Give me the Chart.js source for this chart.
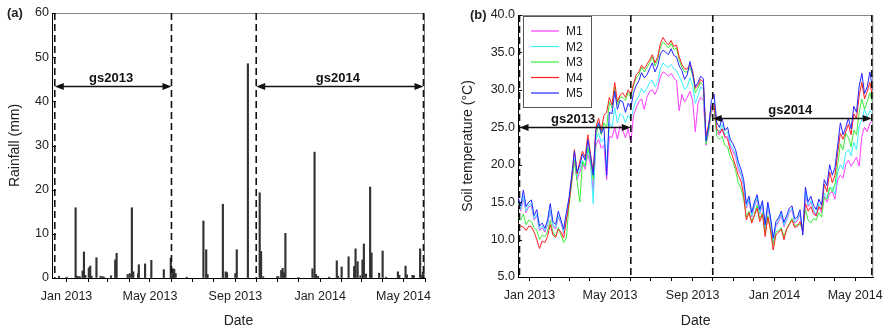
<!DOCTYPE html>
<html>
<head>
<meta charset="utf-8">
<script src="https://cdn.jsdelivr.net/npm/chart.js@4.4.1/dist/chart.umd.min.js"></script>
<style>
  html, body { margin: 0; padding: 0; background: #fff; }
  #wrap { position: relative; width: 890px; height: 328px; }
  #wrap canvas { position: absolute; top: 0; }
</style>
</head>
<body>
<div id="wrap">
  <canvas id="rainChart" width="445" height="328" style="left:0"></canvas>
  <canvas id="tempChart" width="445" height="328" style="left:445px"></canvas>
</div>
<script>
// days are counted from 1 Jan 2013
const monthStarts = [0, 31, 59, 90, 120, 151, 181, 212, 243, 273, 304, 334, 365, 396, 424, 455, 485, 516];
const majorDays = [0, 120, 243, 365, 485];
const majorLabels = ['Jan 2013', 'May 2013', 'Sep 2013', 'Jan 2014', 'May 2014'];

// growing seasons
const seasonNames = ['gs2013', 'gs2014'];
const seasonStart = [-17, 273];
const seasonEnd = [151, 516];
const rainArrowLevel = [43.4, 43.4];
const tempArrowLevel = [25.0, 26.2];

// daily rainfall (mm)
const rainDays = [-11, 0, 13, 15, 17, 19, 23, 25, 27, 32, 34, 36, 43, 49, 52, 54, 64, 70, 72, 88,
  91, 94, 96, 103, 104, 113, 122, 140, 150, 153, 155, 157, 173, 197, 201, 203, 225, 229, 231, 243,
  245, 261, 278, 280, 283, 303, 305, 309, 311, 313, 315, 334, 354, 357, 359, 362, 378, 389, 391, 396,
  406, 414, 416, 419, 423, 426, 428, 431, 437, 439, 450, 455, 460, 477, 479, 488, 490, 498, 500, 509,
  511, 513, 515];
const rainMm = [0.4, 0.2, 15.9, 0.4, 0.3, 0.3, 1.6, 5.9, 0.6, 2.3, 2.7, 0.4, 4.6, 0.4, 0.3, 0.2, 0.5, 4.1, 5.6, 0.8,
  1.0, 15.9, 1.4, 1.0, 3.0, 3.2, 4.0, 1.9, 4.5, 2.1, 2.0, 1.0, 0.2, 12.9, 6.4, 0.8, 16.7, 1.4, 1.2, 1.0,
  6.4, 48.5, 19.3, 6.0, 0.3, 0.3, 0.3, 1.7, 2.2, 1.2, 10.1, 0.1, 2.1, 28.5, 0.8, 0.4, 0.2, 3.9, 0.4, 2.5,
  4.8, 2.6, 6.6, 3.7, 0.5, 4.1, 7.7, 0.9, 20.6, 5.7, 1.1, 6.1, 0.2, 1.4, 0.6, 2.7, 0.7, 0.6, 0.5, 6.6,
  0.6, 1.3, 1.8];

// soil temperature (°C), sampled every 4 days
const tempDays = [-17, -13, -9, -5, -1, 3, 7, 11, 15, 19,
  23, 27, 31, 35, 39, 43, 47, 51, 55, 59,
  63, 67, 71, 75, 79, 83, 87, 91, 95, 99,
  103, 107, 111, 115, 119, 123, 127, 131, 135, 139,
  143, 147, 151, 155, 159, 163, 167, 171, 175, 179,
  183, 187, 191, 195, 199, 203, 207, 211, 215, 219,
  223, 227, 231, 235, 239, 243, 247, 251, 255, 259,
  263, 267, 271, 275, 279, 283, 287, 291, 295, 299,
  303, 307, 311, 315, 319, 323, 327, 331, 335, 339,
  343, 347, 351, 355, 359, 363, 367, 371, 375, 379,
  383, 387, 391, 395, 399, 403, 407, 411, 415, 419,
  423, 427, 431, 435, 439, 443, 447, 451, 455, 459,
  463, 467, 471, 475, 479, 483, 487, 491, 495, 499,
  503, 507, 511];

const m1 = [14.8, 13.8, 15.4, 13.6, 14.4, 14.5, 12.6, 13.2, 11.2, 11.6,
  11.0, 12.0, 13.8, 11.8, 11.4, 13.0, 12.2, 10.8, 12.8, 15.0,
  17.6, 20.4, 18.0, 19.0, 20.2, 19.4, 21.4, 20.0, 16.4, 22.6,
  23.4, 22.2, 22.6, 18.0, 23.8, 23.6, 25.0, 23.4, 25.2, 24.6,
  23.6, 24.8, 22.9, 26.6, 27.6, 28.4, 28.8, 27.4, 29.0, 29.8,
  30.0, 29.4, 30.2, 31.8, 32.4, 32.2, 31.8, 32.2, 31.6, 31.2,
  27.2, 29.4, 28.4, 29.0, 29.8, 28.6, 24.4, 28.2, 29.0, 28.6,
  22.6, 24.4, 27.0, 27.4, 24.2, 24.0, 24.8, 23.6, 23.8, 22.4,
  21.8, 21.0, 19.4, 18.6, 17.2, 14.2, 15.2, 13.0, 14.4, 15.4,
  13.4, 14.6, 11.4, 14.4, 12.4, 9.6, 11.8, 12.4, 13.2, 11.7,
  12.6, 13.6, 14.0, 12.2, 12.5, 13.4, 10.8, 16.0, 14.4, 15.0,
  13.8, 13.2, 14.4, 13.6, 15.8, 15.0, 16.2, 16.4, 15.4, 18.0,
  18.6, 18.2, 20.0, 20.6, 19.8, 20.4, 21.0, 19.8, 23.8, 25.0,
  24.4, 25.6, 25.8];

const m2 = [15.0, 14.0, 15.8, 13.8, 14.6, 14.8, 12.8, 13.4, 11.4, 11.8,
  11.2, 12.2, 14.0, 12.0, 11.6, 13.2, 12.4, 11.0, 13.0, 15.2,
  18.0, 20.8, 18.4, 19.4, 20.6, 19.8, 22.0, 20.4, 14.8, 23.4,
  24.2, 23.0, 23.6, 19.6, 25.6, 25.0, 27.6, 25.6, 26.8, 26.6,
  25.6, 26.6, 26.0, 27.6, 28.6, 29.2, 30.2, 29.6, 30.2, 31.0,
  31.3, 30.4, 31.0, 32.8, 33.6, 33.2, 33.0, 33.4, 32.8, 32.6,
  31.8, 31.0, 30.0, 30.4, 31.6, 30.6, 28.2, 29.2, 30.4, 30.0,
  23.0, 24.8, 27.6, 28.4, 24.8, 24.4, 25.4, 24.0, 24.4, 22.8,
  22.2, 21.4, 19.8, 18.8, 17.4, 14.4, 15.4, 13.2, 14.6, 15.6,
  13.6, 14.8, 11.6, 14.6, 12.6, 9.8, 12.0, 12.6, 13.4, 11.9,
  12.8, 13.8, 14.2, 12.4, 12.7, 13.6, 10.9, 16.4, 14.6, 15.2,
  14.0, 13.4, 14.8, 14.0, 16.2, 15.6, 16.8, 17.0, 16.0, 19.0,
  20.0, 19.4, 21.6, 22.0, 21.2, 23.0, 22.0, 25.2, 26.0, 27.4,
  26.4, 27.2, 26.9];

const m3 = [13.0, 12.6, 13.4, 12.0, 12.6, 12.4, 11.6, 11.2, 10.0, 10.6,
  10.4, 11.0, 12.6, 11.0, 10.4, 11.6, 10.6, 9.6, 10.2, 14.6,
  17.6, 20.6, 17.8, 15.0, 20.4, 19.8, 22.4, 20.6, 18.0, 23.8,
  25.4, 24.0, 25.6, 25.0, 28.4, 27.6, 30.4, 28.0, 29.0, 29.0,
  28.6, 29.6, 29.0, 30.6, 31.6, 32.0, 33.0, 32.4, 33.0, 33.6,
  34.4, 33.2, 34.0, 35.8, 36.4, 36.0, 35.6, 36.2, 35.4, 35.6,
  34.0, 33.0, 32.4, 32.4, 33.0, 32.0, 29.6, 30.2, 31.0, 30.6,
  22.8, 24.6, 27.4, 27.6, 23.8, 23.4, 23.8, 22.6, 22.4, 21.0,
  20.4, 19.2, 17.6, 16.8, 15.4, 13.0, 13.8, 12.4, 13.4, 14.6,
  12.8, 13.6, 10.8, 13.2, 11.4, 9.2, 11.0, 11.2, 11.6, 10.4,
  11.4, 12.2, 12.8, 11.8, 12.0, 12.0, 11.4, 14.0, 12.6, 12.2,
  12.8, 12.6, 13.6, 13.0, 15.6, 15.4, 17.0, 16.4, 17.4, 20.0,
  22.8, 22.0, 24.2, 23.6, 22.4, 24.6, 24.0, 27.0, 28.8, 27.4,
  28.4, 29.6, 28.2];

const m4 = [12.2, 11.8, 11.7, 11.2, 11.8, 11.7, 11.0, 10.0, 8.8, 9.8,
  9.6, 10.4, 12.0, 10.6, 10.3, 11.4, 11.0, 10.2, 12.6, 14.8,
  18.2, 22.0, 18.8, 20.4, 21.8, 21.0, 24.0, 21.4, 19.0, 25.0,
  26.2, 24.6, 26.6, 27.0, 29.0, 28.0, 31.0, 28.4, 29.3, 29.6,
  29.0, 30.0, 29.4, 30.8, 32.0, 32.4, 33.3, 32.8, 33.4, 34.0,
  34.7, 33.6, 34.4, 36.2, 37.0, 36.4, 36.0, 36.6, 35.8, 36.0,
  34.4, 33.4, 32.8, 32.8, 33.4, 32.6, 30.2, 30.6, 31.4, 31.0,
  23.8, 25.4, 27.8, 28.2, 24.8, 24.2, 24.8, 23.8, 23.4, 22.0,
  21.0, 19.8, 18.6, 17.8, 16.0, 12.6, 13.6, 12.2, 13.2, 14.2,
  12.4, 13.4, 10.4, 13.0, 11.2, 8.6, 10.6, 11.0, 11.4, 10.0,
  11.4, 12.0, 12.6, 11.6, 11.8, 12.4, 11.2, 14.8, 13.8, 14.4,
  13.4, 13.2, 14.4, 14.0, 17.4, 16.4, 19.0, 17.6, 18.6, 21.6,
  24.2, 23.4, 24.4, 25.4, 24.0, 26.8, 26.2, 29.2, 31.0, 28.8,
  29.8, 31.0, 29.0];

const m5 = [15.7, 14.5, 16.6, 14.4, 15.0, 15.3, 13.2, 14.0, 11.8, 12.2,
  11.5, 12.6, 14.8, 12.4, 12.0, 13.8, 12.6, 11.4, 13.6, 15.6,
  18.6, 21.8, 19.0, 20.0, 21.4, 20.6, 23.3, 21.2, 18.6, 24.6,
  25.6, 24.2, 25.0, 18.6, 27.0, 26.8, 29.8, 27.4, 28.6, 28.4,
  27.0, 28.2, 27.6, 29.6, 30.6, 31.2, 32.3, 31.6, 32.0, 32.8,
  33.6, 32.4, 33.2, 34.8, 35.3, 35.0, 34.7, 35.5, 34.6, 34.4,
  33.2, 32.6, 31.4, 32.0, 33.8, 32.2, 30.4, 31.0, 31.8, 31.5,
  23.2, 25.2, 28.6, 29.4, 25.6, 25.0, 26.2, 24.6, 25.0, 23.4,
  22.8, 22.0, 20.4, 19.4, 18.0, 14.8, 15.8, 13.6, 15.0, 16.0,
  14.0, 15.2, 12.0, 15.0, 13.0, 10.2, 12.4, 12.9, 13.8, 12.3,
  13.2, 14.2, 14.5, 12.8, 13.0, 14.0, 10.6, 17.0, 15.0, 15.8,
  14.6, 14.0, 15.4, 14.6, 18.0, 17.2, 20.0, 18.6, 19.6, 22.6,
  25.6, 24.0, 25.0, 26.2, 24.8, 27.8, 27.0, 30.5, 32.2, 29.5,
  30.4, 32.4, 30.0];

const seriesNames = ['M1', 'M2', 'M3', 'M4', 'M5'];
const seriesColors = ['#ff3cff', '#3cf0ff', '#3cee3c', '#ff2020', '#2424ff'];

Chart.defaults.font.family = '"Liberation Sans", Arial, sans-serif';
Chart.defaults.color = '#222';

const FONT = '"Liberation Sans", Arial, sans-serif';

const toPoints = (xs, ys) => xs.map((d, i) => ({ x: d, y: ys[i] }));

// frame, season markers, inner y ticks, panel tag and (optional) legend
const panelDecor = {
    id: 'panelDecor',
    afterDraw(chart, args, opts) {
        const { ctx, chartArea: a, scales: { x, y } } = chart;
        ctx.save();

        ctx.strokeStyle = '#888';
        ctx.lineWidth = 1;
        ctx.beginPath();
        ctx.moveTo(a.left, a.top + 0.5);
        ctx.lineTo(a.right - 0.5, a.top + 0.5);
        ctx.lineTo(a.right - 0.5, a.bottom);
        ctx.stroke();

        ctx.strokeStyle = '#000';
        y.ticks.forEach(t => {
            const py = Math.round(y.getPixelForValue(t.value)) + 0.5;
            ctx.beginPath();
            ctx.moveTo(a.left, py);
            ctx.lineTo(a.left + 4, py);
            ctx.stroke();
        });

        const clampX = v => Math.min(Math.max(x.getPixelForValue(v), a.left + 1.5), a.right - 1.5);

        ctx.setLineDash([7, 4]);
        ctx.lineWidth = 1.6;
        ctx.strokeStyle = '#111';
        seasonNames.forEach((n, i) => {
            [seasonStart[i], seasonEnd[i]].forEach(d => {
                const px = clampX(d);
                ctx.beginPath();
                ctx.moveTo(px, a.top);
                ctx.lineTo(px, a.bottom);
                ctx.stroke();
            });
        });
        ctx.setLineDash([]);

        // double arrows
        ctx.fillStyle = '#111';
        ctx.lineWidth = 1.5;
        seasonNames.forEach((n, i) => {
            const x1 = clampX(seasonStart[i]);
            const x2 = clampX(seasonEnd[i]);
            const py = Math.round(y.getPixelForValue(opts.arrowLevels[i])) + 0.5;
            ctx.beginPath();
            ctx.moveTo(x1 + 4, py);
            ctx.lineTo(x2 - 4, py);
            ctx.stroke();
            ctx.beginPath();
            ctx.moveTo(x1, py); ctx.lineTo(x1 + 9, py - 3.5); ctx.lineTo(x1 + 9, py + 3.5); ctx.closePath();
            ctx.fill();
            ctx.beginPath();
            ctx.moveTo(x2, py); ctx.lineTo(x2 - 9, py - 3.5); ctx.lineTo(x2 - 9, py + 3.5); ctx.closePath();
            ctx.fill();
            ctx.font = 'bold 13px ' + FONT;
            ctx.textAlign = 'center';
            ctx.textBaseline = 'alphabetic';
            ctx.fillText(n, (x1 + x2) / 2 - 2, py - 5);
        });

        ctx.font = 'bold 13px ' + FONT;
        ctx.textAlign = 'left';
        ctx.textBaseline = 'middle';
        ctx.fillStyle = '#222';
        ctx.fillText(opts.tag, opts.tagX, opts.tagY);

        if (opts.legend) {
            const L = opts.legend;
            ctx.strokeStyle = '#555';
            ctx.lineWidth = 1;
            ctx.strokeRect(L.x + 0.5, L.y + 0.5, L.w, L.h);
            ctx.font = '12px ' + FONT;
            chart.data.datasets.forEach((ds, i) => {
                const ry = L.y + 15 + i * 15.5;
                ctx.strokeStyle = ds.borderColor;
                ctx.lineWidth = 1.2;
                ctx.beginPath();
                ctx.moveTo(L.x + 8, ry);
                ctx.lineTo(L.x + 36, ry);
                ctx.stroke();
                ctx.fillStyle = '#222';
                ctx.fillText(ds.label, L.x + 43, ry + 1);
            });
        }
        ctx.restore();
    }
};

function dateAxis(min, max, height) {
    return {
        type: 'linear',
        min: min,
        max: max,
        offset: false,
        afterBuildTicks: s => { s.ticks = monthStarts.filter(d => d >= min && d <= max).map(d => ({ value: d })); },
        afterFit: s => { s.height = height; },
        ticks: {
            autoSkip: false,
            maxRotation: 0,
            padding: 7,
            font: { size: 12.5 },
            callback: v => { const k = majorDays.indexOf(v); return k >= 0 ? majorLabels[k] : ''; }
        },
        grid: { drawOnChartArea: false, offset: false, tickLength: 4, color: '#000' },
        border: { color: '#000' },
        title: { display: true, text: 'Date', font: { size: 14 }, padding: { top: 0, bottom: -1.5 } }
    };
}

new Chart(document.getElementById('rainChart'), {
    type: 'bar',
    data: {
        datasets: [{
            label: 'Rainfall',
            data: toPoints(rainDays, rainMm),
            backgroundColor: '#333',
            barThickness: 1.5,
            grouped: false
        }]
    },
    options: {
        responsive: false,
        animation: false,
        layout: { padding: { left: 0, right: 20, top: 13, bottom: 0 } },
        plugins: {
            legend: { display: false },
            tooltip: { enabled: false },
            panelDecor: { arrowLevels: rainArrowLevel, tag: '(a)', tagX: 7, tagY: 13 }
        },
        scales: {
            x: dateAxis(-21, 516, 50),
            y: {
                min: 0,
                max: 60,
                afterFit: s => { s.width = 52; },
                ticks: { stepSize: 10, padding: 3, font: { size: 12.5 } },
                grid: { drawOnChartArea: false, drawTicks: false },
                border: { color: '#000' },
                title: { display: true, text: 'Rainfall (mm)', font: { size: 14 }, padding: { top: 7, bottom: 0 } }
            }
        }
    },
    plugins: [panelDecor]
});

new Chart(document.getElementById('tempChart'), {
    type: 'line',
    data: {
        datasets: [m1, m2, m3, m4, m5].map((vals, i) => ({
            label: seriesNames[i],
            data: toPoints(tempDays, vals),
            borderColor: seriesColors[i],
            borderWidth: 1,
            pointRadius: 0,
            tension: 0,
            order: 5 - i
        }))
    },
    options: {
        responsive: false,
        animation: false,
        layout: { padding: { left: 0, right: 8, top: 15, bottom: 0 } },
        plugins: {
            legend: { display: false },
            tooltip: { enabled: false },
            panelDecor: {
                arrowLevels: tempArrowLevel, tag: '(b)', tagX: 25, tagY: 15,
                legend: { x: 78, y: 16, w: 68, h: 91 }
            }
        },
        scales: {
            x: dateAxis(-17, 512, 51),
            y: {
                min: 5,
                max: 40,
                afterFit: s => { s.width = 73; },
                ticks: { stepSize: 5, padding: 3, font: { size: 12.5 }, callback: v => v.toFixed(1) },
                grid: { drawOnChartArea: false, drawTicks: false },
                border: { color: '#000' },
                title: { display: true, text: 'Soil temperature (°C)', font: { size: 14 }, padding: { top: 14.6, bottom: 0 } }
            }
        }
    },
    plugins: [panelDecor]
});
</script>
</body>
</html>
